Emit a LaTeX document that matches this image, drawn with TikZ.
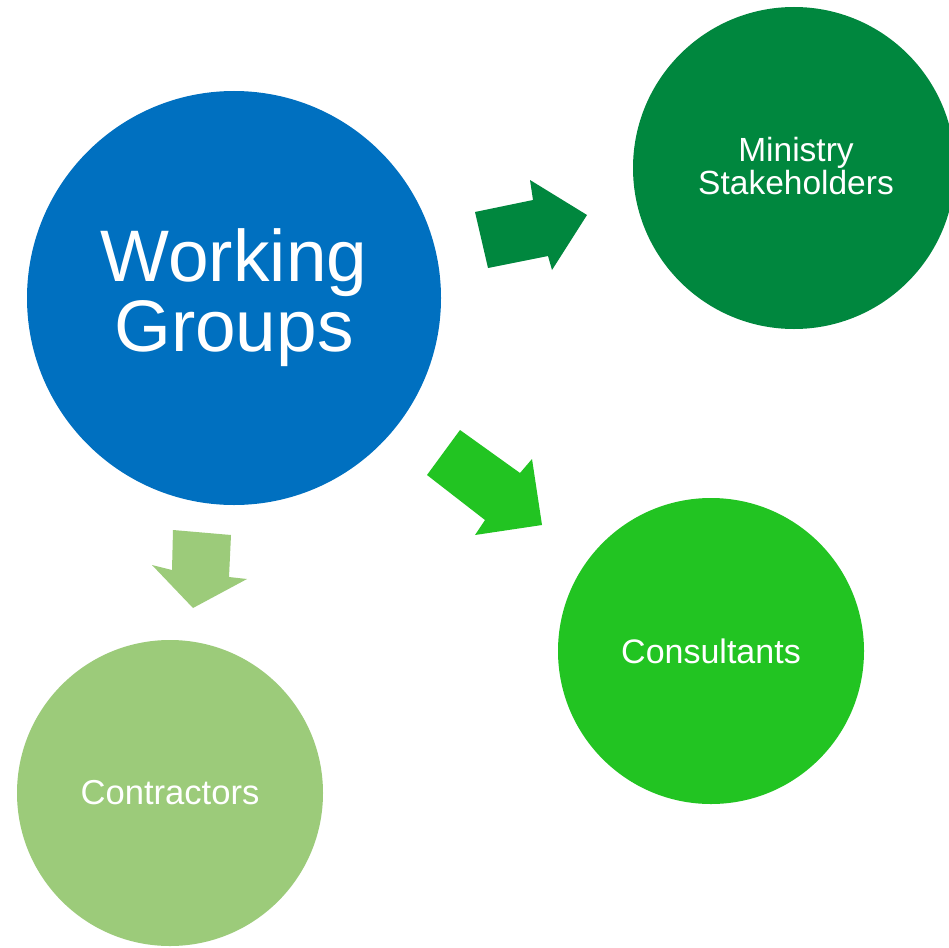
\documentclass[tikz,border=0pt]{standalone}
\usepackage{fontspec}
\setmainfont{Liberation Sans}
\definecolor{wgblue}{HTML}{0070C0}
\definecolor{dkgreen}{HTML}{00873E}
\definecolor{brgreen}{HTML}{22C422}
\definecolor{ltgreen}{HTML}{9CCB7A}
\tikzset{
  bubble/.style={circle, inner sep=0pt, text=white, align=center},
  blockarrow/.style={draw=none},
}
\begin{document}
\begin{tikzpicture}[x=1pt,y=-1pt]
\useasboundingbox (0,0) rectangle (949,947);
\clip (0,0) rectangle (949,947);
\fill[white] (0,0) rectangle (949,947);
% circles
\node[bubble, fill=wgblue, minimum size=414pt, font=\fontsize{73}{70}\selectfont] (wg) at (234,298) {Working\\Groups};
\node[bubble, fill=dkgreen, minimum size=322pt] (ms) at (794,168) {};
\node[text=white, align=center, font=\fontsize{33.5}{30}\selectfont] (mst) at (796,166) {Ministry\\Stakeholders};
\node[bubble, fill=brgreen, minimum size=306pt, font=\fontsize{34}{34}\selectfont] (cs) at (711,651) {Consultants};
\node[bubble, fill=ltgreen, minimum size=306pt, font=\fontsize{34.6}{34}\selectfont] (ct) at (170,793) {Contractors};
% block arrows
\fill[dkgreen, blockarrow] (475,212) -- (533,200) -- (530,180) -- (587,215) -- (552,270) -- (548,256) -- (488,268) -- cycle;
\fill[brgreen, blockarrow] (460,430) -- (520,473) -- (532,459) -- (542,525) -- (475,535) -- (485,520) -- (427,475) -- cycle;
\fill[ltgreen, blockarrow] (173,530) -- (231,535) -- (229,577) -- (247,579) -- (193,608) -- (152,565) -- (172,570) -- cycle;
\end{tikzpicture}
\end{document}
